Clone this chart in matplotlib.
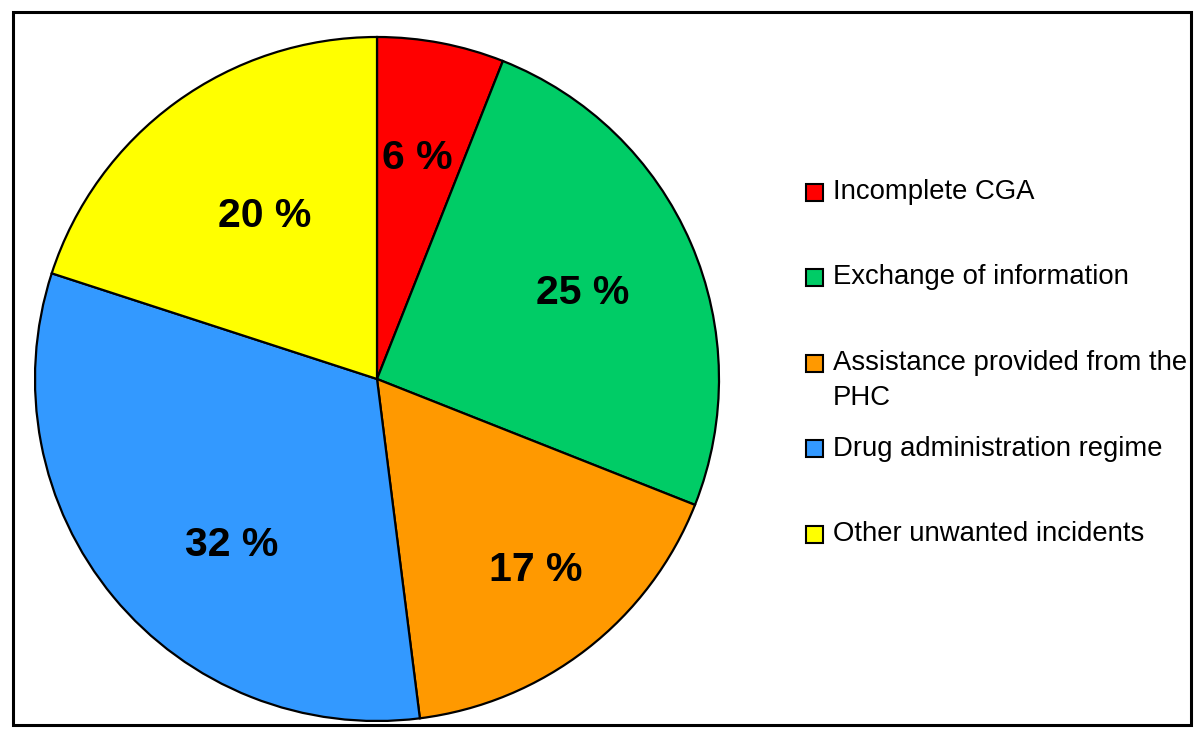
import numpy as np
import matplotlib.pyplot as plt
from matplotlib.patches import Rectangle

# --- data ---
categories = ['Incomplete CGA', 'Exchange of information',
              'Assistance provided from the\nPHC', 'Drug administration regime',
              'Other unwanted incidents']
values = [6, 25, 17, 32, 20]
colors = ['#FF0000', '#00CC66', '#FF9900', '#3399FF', '#FFFF00']

# label placement per slice: distance from centre (in radii) and angle nudge (deg)
label_dist = [0.665, 0.655, 0.72, 0.64, 0.585]
label_nudge = [0.5, 0.0, 2.4, 8.8, -2.0]

W, H = 1200, 738
fig = plt.figure(figsize=(W / 100, H / 100), dpi=100)
plt.rcParams['font.family'] = ['Liberation Sans', 'DejaVu Sans']

# pie axes: centre (377, 379) px, radius 342 px
cx, cy, r = 377, 379, 342
ax = fig.add_axes([(cx - r) / W, (H - cy - r) / H, 2 * r / W, 2 * r / H])
wedges, texts, autotexts = ax.pie(
    values,
    colors=colors,
    startangle=90,
    counterclock=False,
    autopct='%d %%',
    wedgeprops={'edgecolor': 'black', 'linewidth': 1.6},
    textprops={'fontsize': 29.5, 'fontweight': 'bold', 'color': 'black'},
)
for w, t, d, n in zip(wedges, autotexts, label_dist, label_nudge):
    ang = np.deg2rad((w.theta1 + w.theta2) / 2 + n)
    t.set_position((d * np.cos(ang), d * np.sin(ang) - 0.008))
ax.set_xlim(-1, 1)
ax.set_ylim(-1, 1)
ax.set_aspect('equal')
ax.axis('off')

# --- legend drawn by hand so the two-line entry keeps its square on line one ---
leg_x, leg_y0, row_gap, line_gap, sq = 806, 192, 85.5, 35, 17
for i, (label, col) in enumerate(zip(categories, colors)):
    yc = leg_y0 + i * row_gap
    fig.patches.append(Rectangle((leg_x / W, (H - yc - sq / 2) / H), sq / W, sq / H,
                                 transform=fig.transFigure, facecolor=col,
                                 edgecolor='black', linewidth=1.5))
    for k, line in enumerate(label.split('\n')):
        fig.text((leg_x + 27) / W, (H - yc - k * line_gap) / H, line,
                 fontsize=19.8, va='center', ha='left')

# outer frame
fig.patches.append(Rectangle((13 / W, (H - 725) / H), 1178 / W, 713 / H,
                             transform=fig.transFigure, fill=False,
                             edgecolor='black', linewidth=2.2))

fig.savefig('out.png', dpi=100, facecolor='white')
plt.close(fig)
